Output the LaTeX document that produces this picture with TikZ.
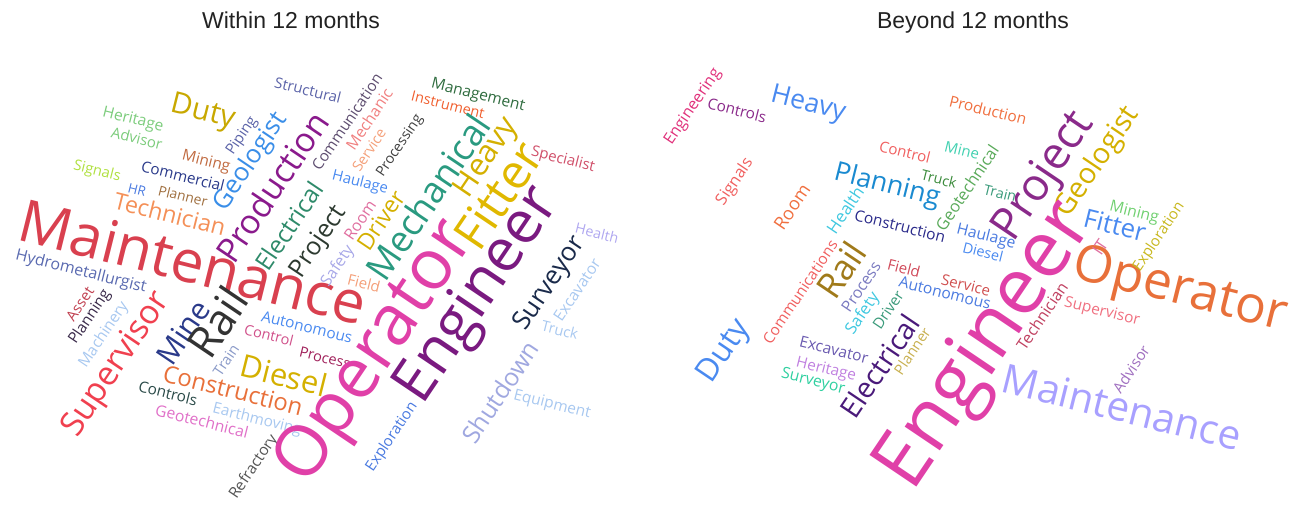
\documentclass[tikz,border=0pt]{standalone}
\usepackage{fontspec}
\usepackage{graphicx}
\newfontfamily\cloudfont{Open Sans}
\newfontfamily\headfont{Liberation Sans}
% word of given length (pt)
\newcommand{\cw}[2]{\resizebox{#1pt}{!}{#2}}

\definecolor{headgray}{HTML}{222222}
\definecolor{crimson}{HTML}{D9404F}
\definecolor{scarlet}{HTML}{F0404F}
\definecolor{rose}{HTML}{D0506A}
\definecolor{coral}{HTML}{F06060}
\definecolor{salmon}{HTML}{F08080}
\definecolor{blush}{HTML}{F07080}
\definecolor{peach}{HTML}{F4A07A}
\definecolor{tangerine}{HTML}{F49058}
\definecolor{orangeA}{HTML}{E8703A}
\definecolor{vermilion}{HTML}{F06030}
\definecolor{flame}{HTML}{F07040}
\definecolor{rust}{HTML}{C06A40}
\definecolor{ochre}{HTML}{A07040}
\definecolor{bronze}{HTML}{A07A1A}
\definecolor{gold}{HTML}{D4B000}
\definecolor{amber}{HTML}{E0B800}
\definecolor{mustard}{HTML}{C8A800}
\definecolor{khaki}{HTML}{C8B050}
\definecolor{oliveA}{HTML}{C8B820}
\definecolor{limeA}{HTML}{B0E040}
\definecolor{mint}{HTML}{7CCC7C}
\definecolor{leaf}{HTML}{70D070}
\definecolor{grass}{HTML}{5AAA5A}
\definecolor{forest}{HTML}{3A8A3A}
\definecolor{pine}{HTML}{2E6B3E}
\definecolor{jade}{HTML}{2E8A6A}
\definecolor{tealA}{HTML}{2A9A80}
\definecolor{sea}{HTML}{3A9A7A}
\definecolor{aqua}{HTML}{40D0B0}
\definecolor{spring}{HTML}{30D0A0}
\definecolor{cyanA}{HTML}{40C8E0}
\definecolor{sky}{HTML}{4A8AF0}
\definecolor{azure}{HTML}{3A8EE8}
\definecolor{ocean}{HTML}{1A8AD0}
\definecolor{royal}{HTML}{4A7AE0}
\definecolor{navy}{HTML}{2A3A8A}
\definecolor{indigo}{HTML}{2A2A8A}
\definecolor{midnight}{HTML}{1A2A4A}
\definecolor{steel}{HTML}{5A6AB0}
\definecolor{slate}{HTML}{5B63A8}
\definecolor{periwinkle}{HTML}{A0A8E0}
\definecolor{lavender}{HTML}{A8A8E8}
\definecolor{lilac}{HTML}{B0A8F0}
\definecolor{iris}{HTML}{A8A0FF}
\definecolor{ice}{HTML}{A8C8F0}
\definecolor{mist}{HTML}{8A9AC8}
\definecolor{violetA}{HTML}{6A5AB0}
\definecolor{amethyst}{HTML}{7A7AC0}
\definecolor{orchid}{HTML}{C080E0}
\definecolor{mauve}{HTML}{A070C0}
\definecolor{plum}{HTML}{8A2A8A}
\definecolor{purpleA}{HTML}{8A1A8C}
\definecolor{grape}{HTML}{7A1A80}
\definecolor{aubergine}{HTML}{4A1A7A}
\definecolor{magentaA}{HTML}{E040A8}
\definecolor{cerise}{HTML}{E0307A}
\definecolor{pinkA}{HTML}{E070A0}
\definecolor{fuchsia}{HTML}{D0508A}
\definecolor{candy}{HTML}{E070C8}
\definecolor{berry}{HTML}{A0205A}
\definecolor{raspberry}{HTML}{C04060}
\definecolor{ruby}{HTML}{C04050}
\definecolor{brick}{HTML}{D05050}
\definecolor{cardinal}{HTML}{D04A5A}
\definecolor{charcoal}{HTML}{333333}
\definecolor{graphite}{HTML}{404040}
\definecolor{ash}{HTML}{555555}
\definecolor{smoke}{HTML}{5E4E70}
\definecolor{eggplant}{HTML}{3A2A4A}
\definecolor{spruce}{HTML}{2D3A30}
\definecolor{moss}{HTML}{2A4A48}

\begin{document}
\begin{tikzpicture}[x=1pt,y=-1pt,
    cloudword/.style={inner sep=0pt, font=\cloudfont},
    across/.style={cloudword, rotate=-14},
    upward/.style={cloudword, rotate=56},
    heading/.style={inner sep=0pt, anchor=base, text=headgray,
        font=\headfont\fontsize{23}{23}\selectfont}]
    \useasboundingbox (0,0) rectangle (1303,504);

    % headings
    \node (within) [heading] at (291,28) {Within 12 months};
    \node (beyond) [heading] at (973,28) {Beyond 12 months};

    % within 12 months
    \node (wStructural) [across, text=slate] at (308,90) {\cw{68}{Structural}};
    \node (wManagement) [across, text=pine] at (478,96) {\cw{96}{Management}};
    \node (wInstrument) [across, text=vermilion] at (448,105) {\cw{75}{Instrument}};
    \node (wSpecialist) [across, text=rose] at (563,160) {\cw{65}{Specialist}};
    \node (wHaulage) [across, text=sky] at (360,183) {\cw{57}{Haulage}};
    \node (wDuty) [across, text=mustard] at (203,113) {\cw{65}{Duty}};
    \node (wHeritage) [across, text=mint] at (133,120) {\cw{62}{Heritage}};
    \node (wAdvisor) [across, text=mint] at (137,138) {\cw{52}{Advisor}};
    \node (wMining) [across, text=rust] at (206,162) {\cw{49}{Mining}};
    \node (wSignals) [across, text=limeA] at (97,172) {\cw{48}{Signals}};
    \node (wCommercial) [across, text=navy] at (183,176) {\cw{85}{Commercial}};
    \node (wHR) [across, text=royal] at (137,190) {\cw{18}{HR}};
    \node (wPlanner) [across, text=ochre] at (183,196) {\cw{50}{Planner}};
    \node (wTechnician) [across, text=tangerine] at (170,214) {\cw{114}{Technician}};
    \node (wMaintenance) [across, text=crimson] at (193,262) {\cw{356}{Maintenance}};
    \node (wHydrometallurgist) [across, text=steel] at (81,272) {\cw{134}{Hydrometallurgist}};
    \node (wAutonomous) [across, text=sky] at (307,327) {\cw{93}{Autonomous}};
    \node (wControl) [across, text=fuchsia] at (269,335) {\cw{50}{Control}};
    \node (wProcess) [across, text=berry] at (325,358) {\cw{52}{Process}};
    \node (wDiesel) [across, text=gold] at (284,375) {\cw{88}{Diesel}};
    \node (wConstruction) [across, text=orangeA] at (233,390) {\cw{143}{Construction}};
    \node (wControls) [across, text=moss] at (168,393) {\cw{60}{Controls}};
    \node (wGeotechnical) [across, text=candy] at (202,421) {\cw{95}{Geotechnical}};
    \node (wEarthmoving) [across, text=ice] at (257,420) {\cw{91}{Earthmoving}};
    \node (wField) [across, text=peach] at (364,283) {\cw{33}{Field}};
    \node (wTruck) [across, text=ice] at (560,330) {\cw{37}{Truck}};
    \node (wHealth) [across, text=lilac] at (597,233) {\cw{44}{Health}};
    \node (wEquipment) [across, text=ice] at (552,405) {\cw{79}{Equipment}};

    \node (wCommunication) [upward, text=smoke] at (347,122) {\cw{113}{Communication}};
    \node (wMechanic) [upward, text=salmon] at (369,119) {\cw{70}{Mechanic}};
    \node (wService) [upward, text=peach] at (369,150) {\cw{48}{Service}};
    \node (wProcessing) [upward, text=graphite] at (400,146) {\cw{71}{Processing}};
    \node (wHeavy) [upward, text=gold] at (487,158) {\cw{89}{Heavy}};
    \node (wFitter) [upward, text=amber] at (498,195) {\cw{117}{Fitter}};
    \node (wMechanical) [upward, text=tealA] at (428,197) {\cw{191}{Mechanical}};
    \node (wDriver) [upward, text=gold] at (381,220) {\cw{66}{Driver}};
    \node (wRoom) [upward, text=pinkA] at (360,220) {\cw{44}{Room}};
    \node (wProject) [upward, text=spruce] at (319,242) {\cw{81}{Project}};
    \node (wElectrical) [upward, text=jade] at (289,226) {\cw{101}{Electrical}};
    \node (wProduction) [upward, text=purpleA] at (272,187) {\cw{173}{Production}};
    \node (wGeologist) [upward, text=azure] at (251,162) {\cw{112}{Geologist}};
    \node (wPiping) [upward, text=slate] at (242,136) {\cw{43}{Piping}};
    \node (wAsset) [upward, text=ruby] at (80,304) {\cw{37}{Asset}};
    \node (wPlanning) [upward, text=eggplant] at (90,317) {\cw{62}{Planning}};
    \node (wMachinery) [upward, text=ice] at (104,335) {\cw{76}{Machinery}};
    \node (wSupervisor) [upward, text=scarlet] at (117,365) {\cw{167}{Supervisor}};
    \node (wMine) [upward, text=navy] at (183,332) {\cw{70}{Mine}};
    \node (wRail) [upward, text=charcoal] at (217,322) {\cw{73}{Rail}};
    \node (wTrain) [upward, text=mist] at (226,360) {\cw{34}{Train}};
    \node (wRefractory) [upward, text=ash] at (254,467) {\cw{74}{Refractory}};
    \node (wExploration) [upward, text=royal] at (392,437) {\cw{80}{Exploration}};
    \node (wSafety) [upward, text=lavender] at (338,266) {\cw{46}{Safety}};
    \node (wSurveyor) [upward, text=midnight] at (550,284) {\cw{107}{Surveyor}};
    \node (wExcavator) [upward, text=ice] at (577,290) {\cw{71}{Excavator}};
    \node (wShutdown) [upward, text=periwinkle] at (500,392) {\cw{117}{Shutdown}};
    \node (wOperator) [upward, text=magentaA] at (377,354) {\cw{300}{Operator}};
    \node (wEngineer) [upward, text=grape] at (479,296) {\cw{246}{Engineer}};

    % beyond 12 months
    \node (bControls) [across, text=plum] at (737,110) {\cw{60}{Controls}};
    \node (bHeavy) [across, text=sky] at (808,105) {\cw{76}{Heavy}};
    \node (bProduction) [across, text=flame] at (988,110) {\cw{79}{Production}};
    \node (bControl) [across, text=coral] at (905,152) {\cw{52}{Control}};
    \node (bMine) [across, text=aqua] at (962,150) {\cw{35}{Mine}};
    \node (bTruck) [across, text=forest] at (939,179) {\cw{36}{Truck}};
    \node (bTrain) [across, text=sea] at (1000,193) {\cw{33}{Train}};
    \node (bPlanning) [across, text=ocean] at (887,186) {\cw{108}{Planning}};
    \node (bConstruction) [across, text=indigo] at (900,226) {\cw{93}{Construction}};
    \node (bHaulage) [across, text=royal] at (986,237) {\cw{60}{Haulage}};
    \node (bDiesel) [across, text=sky] at (983,252) {\cw{41}{Diesel}};
    \node (bFitter) [across, text=sky] at (1115,225) {\cw{63}{Fitter}};
    \node (bMining) [across, text=leaf] at (1134,213) {\cw{50}{Mining}};
    \node (bOperator) [across, text=orangeA] at (1180,292) {\cw{219}{Operator}};
    \node (bSupervisor) [across, text=blush] at (1102,312) {\cw{77}{Supervisor}};
    \node (bMaintenance) [across, text=iris] at (1122,407) {\cw{245}{Maintenance}};
    \node (bService) [across, text=brick] at (966,285) {\cw{50}{Service}};
    \node (bAutonomous) [across, text=royal] at (945,293) {\cw{94}{Autonomous}};
    \node (bField) [across, text=cardinal] at (904,268) {\cw{33}{Field}};
    \node (bExcavator) [across, text=violetA] at (834,350) {\cw{70}{Excavator}};
    \node (bHeritage) [across, text=orchid] at (826,370) {\cw{61}{Heritage}};
    \node (bSurveyor) [across, text=spring] at (813,382) {\cw{65}{Surveyor}};

    \node (bEngineering) [upward, text=cerise] at (693,107) {\cw{88}{Engineering}};
    \node (bSignals) [upward, text=coral] at (735,182) {\cw{53}{Signals}};
    \node (bRoom) [upward, text=flame] at (792,207) {\cw{50}{Room}};
    \node (bGeotechnical) [upward, text=grass] at (967,188) {\cw{99}{Geotechnical}};
    \node (bHealth) [upward, text=cyanA] at (845,210) {\cw{52}{Health}};
    \node (bProject) [upward, text=plum] at (1045,177) {\cw{145}{Project}};
    \node (bGeologist) [upward, text=gold] at (1098,162) {\cw{126}{Geologist}};
    \node (bExploration) [upward, text=oliveA] at (1159,237) {\cw{80}{Exploration}};
    \node (bIT) [upward, text=pinkA] at (1100,247) {\cw{14}{IT}};
    \node (bEngineer) [upward, text=magentaA] at (987,347) {\cw{326}{Engineer}};
    \node (bTechnician) [upward, text=raspberry] at (1042,316) {\cw{78}{Technician}};
    \node (bAdvisor) [upward, text=mauve] at (1131,369) {\cw{53}{Advisor}};
    \node (bRail) [upward, text=bronze] at (841,270) {\cw{59}{Rail}};
    \node (bCommunications) [upward, text=coral] at (800,292) {\cw{121}{Communications}};
    \node (bProcess) [upward, text=amethyst] at (861,287) {\cw{57}{Process}};
    \node (bSafety) [upward, text=cyanA] at (863,314) {\cw{47}{Safety}};
    \node (bDriver) [upward, text=sea] at (888,310) {\cw{43}{Driver}};
    \node (bElectrical) [upward, text=aubergine] at (880,366) {\cw{118}{Electrical}};
    \node (bPlanner) [upward, text=khaki] at (912,351) {\cw{53}{Planner}};
    \node (bDuty) [upward, text=sky] at (725,352) {\cw{69}{Duty}};
\end{tikzpicture}
\end{document}
